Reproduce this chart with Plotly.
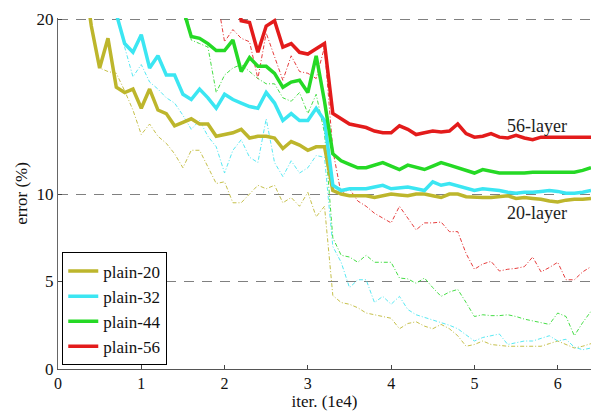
import plotly.graph_objects as go

# iterations (1e4)
iters = [0.3, 0.4, 0.5, 0.6, 0.7, 0.8, 0.9, 1.0, 1.1, 1.2,
         1.3, 1.4, 1.5, 1.6, 1.7, 1.8, 1.9, 2.0, 2.1, 2.2,
         2.3, 2.4, 2.5, 2.6, 2.7, 2.8, 2.9, 3.0, 3.1, 3.2,
         3.3, 3.4, 3.5, 3.6, 3.7, 3.8, 3.9, 4.0, 4.1, 4.2,
         4.3, 4.4, 4.5, 4.6, 4.7, 4.8, 4.9, 5.0, 5.1, 5.2,
         5.3, 5.4, 5.5, 5.6, 5.7, 5.8, 5.9, 6.0, 6.1, 6.2,
         6.3, 6.4]

N = None

# test error (thick lines)
test20 = [23, 19.6, 17.2, 18.9, 16.1, 15.8, 16.0, 14.9, 16.0, 14.8,
          14.6, 13.9, 14.1, 14.3, 14.0, 14.0, 13.3, 13.4, 13.5, 13.7,
          13.2, 13.3, 13.3, 13.2, 12.6, 13.0, 12.8, 12.5, 12.7, 12.7,
          10.2, 10.0, 9.9, 9.9, 9.9, 9.8, 9.9, 10.0, 9.95, 9.9,
          10.0, 10.0, 9.9, 9.8, 10.0, 10.0, 9.85, 9.8, 9.8, 9.8,
          9.85, 9.9, 9.75, 9.8, 9.75, 9.7, 9.6, 9.55, 9.65, 9.7,
          9.7, 9.75]
test32 = [N, N, N, 24, 20.3, 18.6, 18.1, 19.1, 17.2, 17.9,
          16.8, 16.8, 15.7, 15.4, 16.0, 15.5, 14.9, 15.7, 15.4, 15.2,
          15.0, 14.9, 15.8, 15.2, 14.2, 14.6, 14.2, 14.2, 14.9, 14.2,
          10.5, 10.2, 10.3, 10.3, 10.3, 10.4, 10.5, 10.3, 10.35, 10.4,
          10.3, 10.2, 10.7, 10.5, 10.6, 10.45, 10.3, 10.2, 10.3, 10.25,
          10.2, 10.1, 10.05, 10.1, 10.1, 10.15, 10.2, 10.15, 10.05, 10.05,
          10.1, 10.2]
test44 = [N, N, N, N, N, N, N, N, N, N,
          N, N, 20.6, 19.0, 18.9, 18.6, 18.2, 18.2, 18.8, 17.0,
          17.8, 17.3, 17.3, 16.9, 16.1, 16.4, 16.5, 15.8, 17.9, 15.3,
          12.3, 11.9, 11.7, 11.5, 11.5, 11.65, 11.8, 11.6, 11.4, 11.65,
          11.5, 11.4, 11.6, 11.8, 11.65, 11.5, 11.35, 11.2, 11.4, 11.3,
          11.2, 11.2, 11.2, 11.2, 11.25, 11.25, 11.3, 11.3, 11.25, 11.25,
          11.35, 11.5]
test56 = [N, N, N, N, N, N, N, N, N, N,
          N, N, N, N, N, N, N, N, 23, 19.9,
          19.8, 18.1, 19.6, 19.9, 18.4, 18.6, 18.1, 18.0, 18.3, 18.6,
          14.6, 14.3, 14.0, 13.9, 13.8, 13.6, 13.5, 13.5, 13.9, 13.7,
          13.4, 13.5, 13.6, 13.55, 13.6, 14.0, 13.45, 13.25, 13.3, 13.45,
          13.25, 13.2, 13.35, 13.2, 13.1, 13.25, 13.25, 13.25, 13.25, 13.25,
          13.25, 13.25]

# training error (thin dash-dot lines)
train20 = [23, 19.6, 17.2, 17.0, 16.9, 15.9, 14.8, 13.4, 14.0, 13.3,
           12.9, 12.3, 11.5, 12.5, 12.5, 11.5, 10.6, 10.7, 9.5, 9.5,
           10.0, 10.5, 10.3, 10.5, 9.5, 9.8, 9.3, 10.1, 8.7, 9.3,
           4.2, 3.8, 3.7, 3.5, 3.2, 3.1, 3.0, 2.9, 2.3, 2.6,
           2.7, 2.45, 2.3, 2.55, 2.3, 1.9, 1.3, 1.4, 1.6, 1.4,
           1.35, 1.3, 1.3, 1.3, 1.3, 1.3, 1.45, 1.6, 1.4, 1.2,
           1.3, 1.45]
train32 = [N, N, N, 24, 20.5, 18.4, 16.7, 17.4, 16.4, 16.0,
           15.5, 15.2, 14.5, 13.7, 14.2, 13.3, 12.7, 11.2, 12.5, 13.1,
           12.1, 11.8, 14.3, 11.8, 11.0, 11.9, 11.2, 11.5, 12.2, 12.1,
           7.0, 6.1, 4.65, 5.1, 5.1, 3.8, 4.15, 3.7, 4.15, 3.4,
           3.1, 2.95, 2.8, 2.65, 2.5, 2.3, 1.95, 1.6, 1.8, 1.9,
           2.0, 1.4, 1.5, 1.6, 1.6, 1.75, 1.9, 1.6, 1.7, 1.25,
           1.1, 1.2]
train44 = [N, N, N, N, N, N, N, N, N, N,
           N, N, 21.5, 18.8, 18.6, 18.4, 15.8, 16.8, 17.2, 17.4,
           17.0, 16.6, 16.3, 16.3, 15.5, 15.3, 15.8, 14.6, 15.7, 13.5,
           7.5, 6.5, 6.4, 6.1, 6.5, 6.1, 6.1, 6.1, 5.2, 5.15,
           4.9, 5.2, 4.65, 4.15, 4.4, 4.55, 3.8, 3.0, 3.1, 3.05,
           3.05, 3.1, 3.0, 2.85, 2.75, 2.65, 2.55, 3.2, 3.0, 1.9,
           2.65, 3.3]
train56 = [N, N, N, N, N, N, N, N, N, N,
           N, N, N, N, N, N, 21.5, 18.7, 19.4, 18.9,
           18.7, 16.6, 19.2, 17.8, 16.5, 17.9, 17.0, 16.9, 16.6, 18.4,
           12.5, 10.0, 10.3, 9.6, 9.3, 8.9, 8.6, 8.35, 9.3, 8.6,
           7.95, 8.35, 8.35, 8.4, 7.85, 7.85, 6.6, 5.7, 6.0, 6.15,
           5.6, 5.7, 5.75, 5.85, 6.4, 5.55, 5.8, 6.1, 5.1, 5.1,
           5.55, 5.85]

names = ["plain-20", "plain-32", "plain-44", "plain-56"]
colors = ["#BDB62C", "#3BE6F2", "#25D925", "#E31B1B"]
tests = [test20, test32, test44, test56]
trains = [train20, train32, train44, train56]

x_ticks = [0, 1, 2, 3, 4, 5, 6]
y_ticks = [0, 5, 10, 20]

labels = ["56-layer", "20-layer"]
label_x = [5.75, 5.75]
label_y = [13.9, 8.9]

SERIF = "Liberation Serif, Times New Roman, serif"

fig = go.Figure()
for name, c, tr in zip(names, colors, trains):
    fig.add_trace(go.Scatter(x=iters, y=tr, mode="lines", showlegend=False,
                             line=dict(color=c, width=1, dash="4px,2px,1px,2px"),
                             opacity=0.85, hoverinfo="skip"))
for name, c, te in zip(names, colors, tests):
    fig.add_trace(go.Scatter(x=iters, y=te, mode="lines", name=name,
                             line=dict(color=c, width=3.5)))

for t, lx, ly in zip(labels, label_x, label_y):
    fig.add_annotation(x=lx, y=ly, text=t, showarrow=False,
                       font=dict(family=SERIF, size=18, color="#222"))

fig.update_layout(
    width=592, height=412,
    margin=dict(l=58, r=1, t=18, b=43),
    paper_bgcolor="white", plot_bgcolor="white",
    font=dict(family=SERIF, size=16, color="#111"),
    legend=dict(x=0.008, y=0.01, xanchor="left", yanchor="bottom",
                bgcolor="white", bordercolor="black", borderwidth=1,
                font=dict(family=SERIF, size=17, color="#111"),
                tracegroupgap=0, itemwidth=30),
    xaxis=dict(range=[0, 6.4], tickvals=x_ticks, ticks="inside", ticklen=4,
               tickcolor="#444", showgrid=False, zeroline=False,
               showline=True, linecolor="#555", linewidth=1,
               automargin=False,
               title=dict(text="iter. (1e4)", font=dict(size=17), standoff=2),
               tickfont=dict(size=16)),
    yaxis=dict(range=[0, 20.06], tickvals=y_ticks, ticks="inside", ticklen=4,
               tickcolor="#444", showgrid=True, gridcolor="#808080",
               gridwidth=1.3, griddash="10px,8px", zeroline=False,
               showline=True, linecolor="#666", linewidth=1,
               automargin=False,
               title=dict(text="error (%)", font=dict(size=17), standoff=4),
               tickfont=dict(size=17)),
)

fig.write_html("out.html",
               config={"displayModeBar": False},
               post_script="document.body.style.margin='0';document.body.style.padding='0';")
